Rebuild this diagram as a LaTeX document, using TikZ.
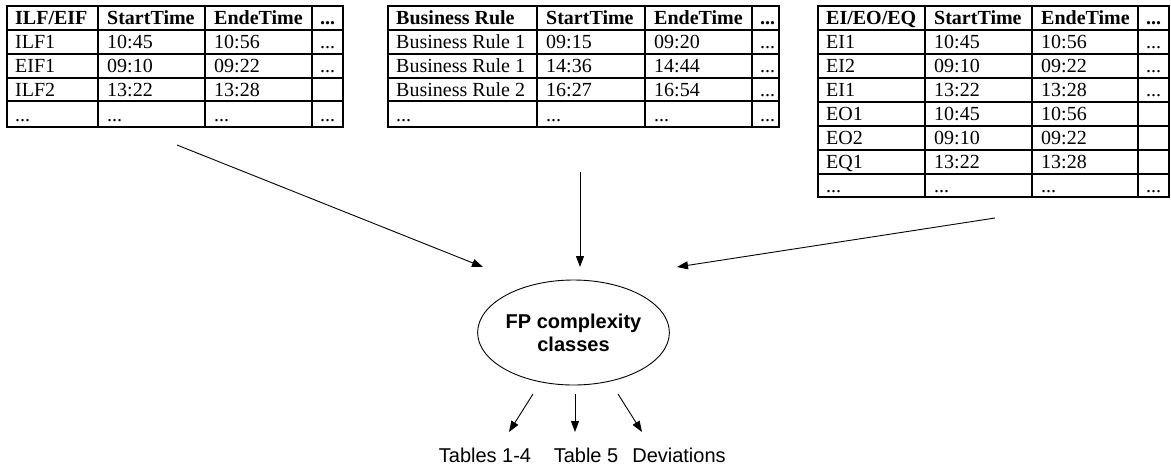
\documentclass[tikz,border=0pt]{standalone}
\usepackage{fontspec}
\setmainfont{Liberation Serif}
\newfontfamily\arialf{Liberation Sans}
\usetikzlibrary{arrows.meta,shapes.geometric}
\newcommand{\mydots}{...}
\begin{document}
\begin{tikzpicture}[x=1pt,y=-1pt,
  grid/.style={line width=1.4pt, line cap=rect},
  cell/.style={anchor=base west, inner sep=0pt, font=\fontsize{20}{21}\selectfont},
  hcell/.style={cell, font=\fontsize{20}{21}\selectfont\bfseries},
  conn/.style={line width=0.9pt, -{Triangle[length=11pt,width=8pt]}},
  lbl/.style={font=\arialf\fontsize{20}{21}\selectfont, inner sep=0pt, anchor=base}]
\useasboundingbox (0,0) rectangle (1171,467);

% ---------- Table 1 ----------
\foreach \x in {7,98,205,312,343} \draw[grid] (\x,6) -- (\x,127);
\foreach \y in {6,30,54,78,101,127} \draw[grid] (7,\y) -- (343,\y);
\node[hcell] (t1-0-1) at (15,24.5) {ILF/EIF};
\node[hcell] (t1-0-2) at (107,24.5) {StartTime};
\node[hcell] (t1-0-3) at (214,24.5) {EndeTime};
\node[hcell] (t1-0-4) at (320,24.5) {\mydots};
\foreach [count=\r] \y/\a/\b/\c/\d in {48.5/ILF1/10:45/10:56/\mydots, 72.5/EIF1/09:10/09:22/\mydots, 96.5/ILF2/13:22/13:28/{}, 121.5/\mydots/\mydots/\mydots/\mydots} {
  \node[cell] (t1-\r-1) at (15,\y) {\a};
  \node[cell] (t1-\r-2) at (107,\y) {\b};
  \node[cell] (t1-\r-3) at (214,\y) {\c};
  \node[cell] (t1-\r-4) at (320,\y) {\d};
}

% ---------- Table 2 ----------
\foreach \x in {388,537,645,752,779} \draw[grid] (\x,6) -- (\x,127);
\foreach \y in {6,30,54,78,101,127} \draw[grid] (388,\y) -- (779,\y);
\node[hcell] (t2-0-1) at (396,24.5) {Business Rule};
\node[hcell] (t2-0-2) at (546,24.5) {StartTime};
\node[hcell] (t2-0-3) at (654,24.5) {EndeTime};
\node[hcell] (t2-0-4) at (760,24.5) {\mydots};
\foreach [count=\r] \y/\a/\b/\c/\d in {48.5/Business Rule 1/09:15/09:20/\mydots, 72.5/Business Rule 1/14:36/14:44/\mydots, 96.5/Business Rule 2/16:27/16:54/\mydots, 121.5/\mydots/\mydots/\mydots/\mydots} {
  \node[cell] (t2-\r-1) at (396,\y) {\a};
  \node[cell] (t2-\r-2) at (546,\y) {\b};
  \node[cell] (t2-\r-3) at (654,\y) {\c};
  \node[cell] (t2-\r-4) at (760,\y) {\d};
}

% ---------- Table 3 ----------
\foreach \x in {818,925,1032,1138,1169} \draw[grid] (\x,6) -- (\x,197);
\foreach \y in {6,30,54,78,102,126,150,174,197} \draw[grid] (818,\y) -- (1169,\y);
\node[hcell] (t3-0-1) at (826,24.5) {EI/EO/EQ};
\node[hcell] (t3-0-2) at (934,24.5) {StartTime};
\node[hcell] (t3-0-3) at (1041,24.5) {EndeTime};
\node[hcell] (t3-0-4) at (1146,24.5) {\mydots};
\foreach [count=\r] \y/\a/\b/\c/\d in {48.5/EI1/10:45/10:56/\mydots, 72.5/EI2/09:10/09:22/\mydots, 96.5/EI1/13:22/13:28/\mydots, 120.5/EO1/10:45/10:56/{}, 144.5/EO2/09:10/09:22/{}, 168.5/EQ1/13:22/13:28/{}, 192/\mydots/\mydots/\mydots/\mydots} {
  \node[cell] (t3-\r-1) at (826,\y) {\a};
  \node[cell] (t3-\r-2) at (934,\y) {\b};
  \node[cell] (t3-\r-3) at (1041,\y) {\c};
  \node[cell] (t3-\r-4) at (1146,\y) {\d};
}

% ---------- Ellipse ----------
\node[draw, ellipse, line width=0.9pt, minimum width=177pt, minimum height=105pt,
  inner sep=0pt, align=center, font=\arialf\bfseries\fontsize{20}{23}\selectfont]
  (fp) at (573.5,332.5) {FP complexity\\classes};

% ---------- Incoming arrows ----------
\coordinate (s1) at (177,145); \coordinate (e1) at (483,267);
\coordinate (s2) at (580,172); \coordinate (e2) at (580,267);
\coordinate (s3) at (995,218); \coordinate (e3) at (677,267);
\draw[conn] (s1) -- (e1);
\draw[conn] (s2) -- (e2);
\draw[conn] (s3) -- (e3);

% ---------- Outgoing arrows and labels ----------
\node[lbl] (l1) at (485,462) {Tables 1-4};
\node[lbl] (l2) at (586,462) {Table 5};
\node[lbl] (l3) at (679,462) {Deviations};
\coordinate (o1) at (533,394); \coordinate (p1) at (509,432);
\coordinate (o2) at (575,394); \coordinate (p2) at (575,432);
\coordinate (o3) at (618,394); \coordinate (p3) at (642,432);
\draw[conn] (o1) -- (p1);
\draw[conn] (o2) -- (p2);
\draw[conn] (o3) -- (p3);
\end{tikzpicture}
\end{document}
